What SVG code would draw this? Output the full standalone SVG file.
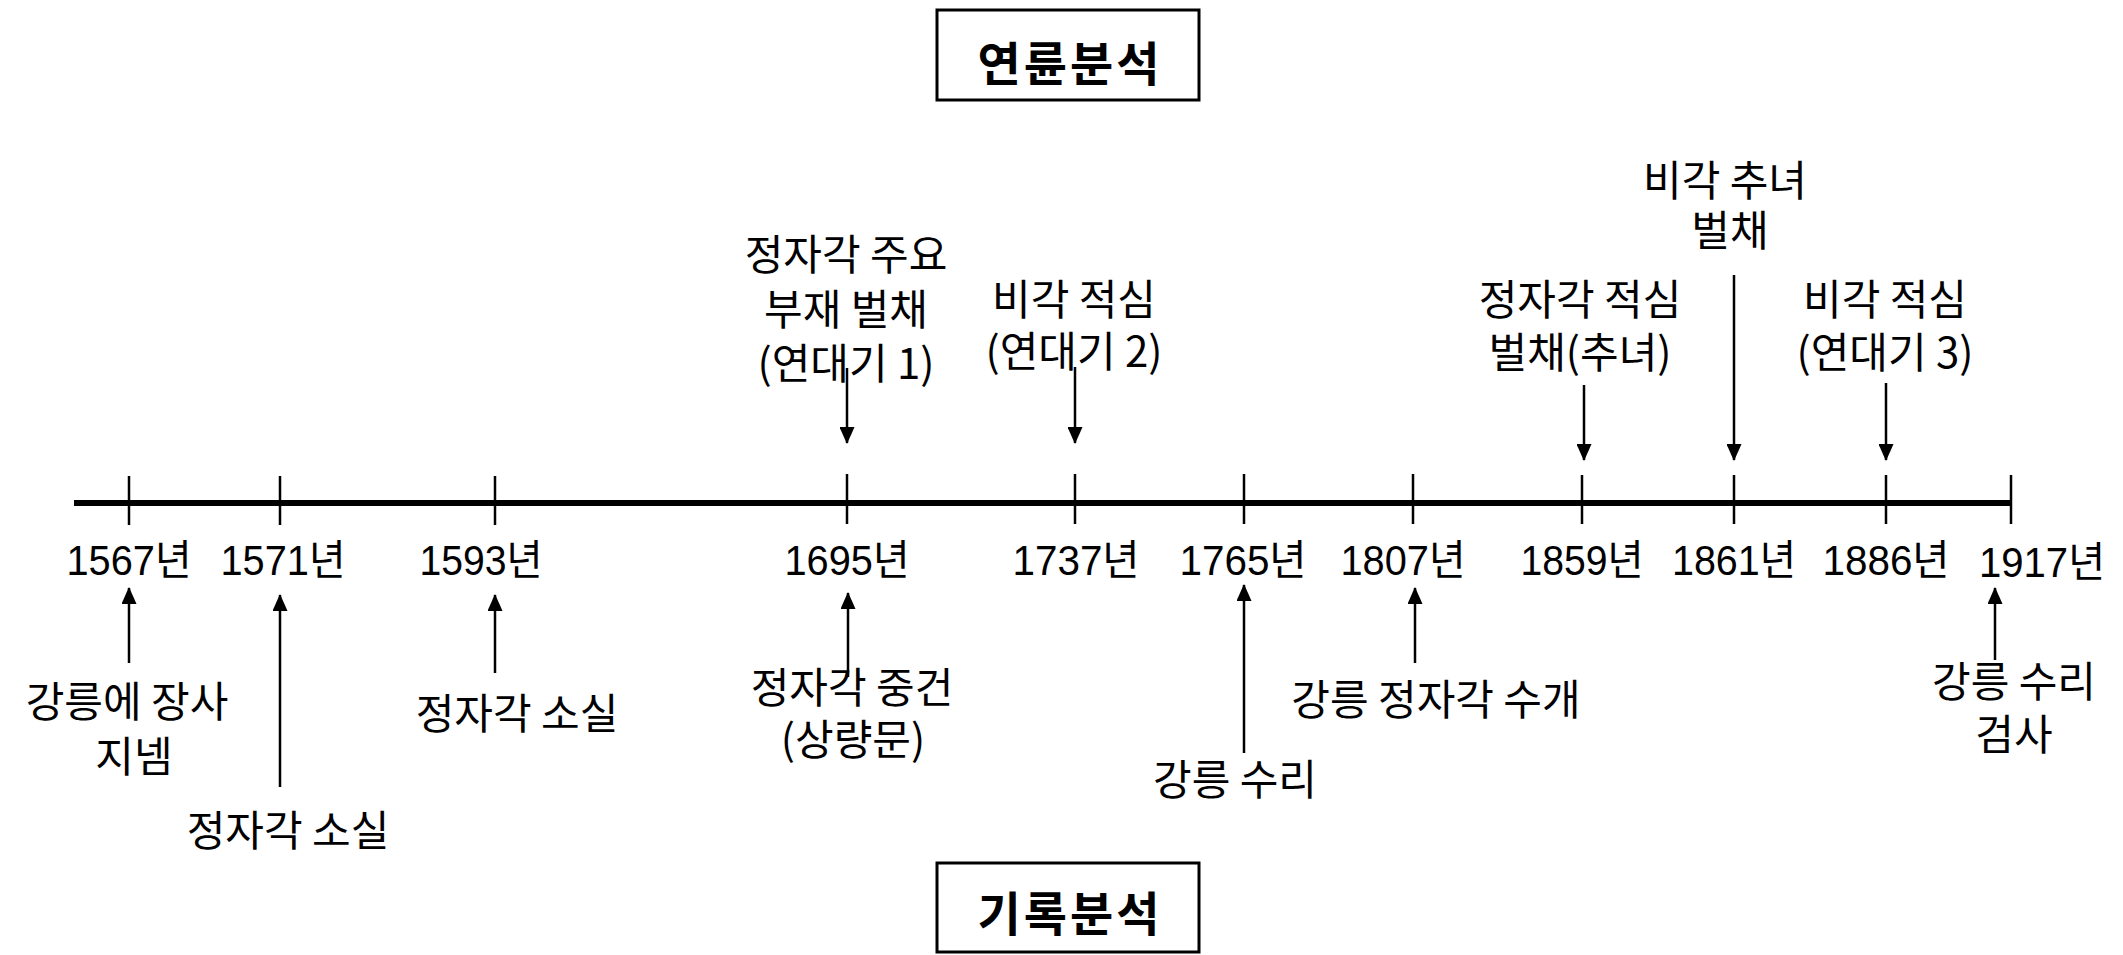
<svg xmlns="http://www.w3.org/2000/svg" width="2123" height="955" viewBox="0 0 2123 955">
<style>
.bg{fill:#ffffff}
.box{fill:#ffffff;stroke:#000;stroke-width:3}
.title{font-family:"Noto Sans CJK KR",sans-serif;font-size:47px;font-weight:bold;fill:#000;text-anchor:middle;letter-spacing:3px}
.lbl{font-family:"Noto Sans CJK KR",sans-serif;font-size:42px;fill:#000;text-anchor:middle}
.yr{font-family:"Liberation Sans","Noto Sans CJK KR",sans-serif;font-size:42px;fill:#000;text-anchor:middle}
.axis{stroke:#000;stroke-width:6;fill:none}
.tick{stroke:#000;stroke-width:2.5;fill:none}
.arr{stroke:#000;stroke-width:2.5;fill:none;marker-end:url(#ah)}
</style>
<defs>
<marker id="ah" markerUnits="userSpaceOnUse" markerWidth="17" markerHeight="15" refX="16" refY="7.5" orient="auto">
<path d="M0,0 L17,7.5 L0,15 z" fill="#000"/>
</marker>
</defs>
<rect class="bg" x="0" y="0" width="2123" height="955"/>

<g id="title-top">
<rect class="box" x="937" y="10" width="262" height="90"/>
<text class="title" x="1070" y="81">연륜분석</text>
</g>
<g id="title-bottom">
<rect class="box" x="937" y="863" width="262" height="89"/>
<text class="title" x="1070" y="931">기록분석</text>
</g>

<g id="axis">
<line class="axis" x1="74" y1="503" x2="2011" y2="503"/>
<line class="tick" x1="129" y1="476" x2="129" y2="525"/>
<line class="tick" x1="280" y1="476" x2="280" y2="525"/>
<line class="tick" x1="495" y1="476" x2="495" y2="525"/>
<line class="tick" x1="847" y1="474" x2="847" y2="524"/>
<line class="tick" x1="1075" y1="474" x2="1075" y2="524"/>
<line class="tick" x1="1244" y1="474" x2="1244" y2="524"/>
<line class="tick" x1="1413" y1="474" x2="1413" y2="524"/>
<line class="tick" x1="1582" y1="475" x2="1582" y2="524"/>
<line class="tick" x1="1734" y1="475" x2="1734" y2="524"/>
<line class="tick" x1="1886" y1="475" x2="1886" y2="524"/>
<line class="tick" x1="2011" y1="475" x2="2011" y2="524"/>
</g>

<g id="years">
<text class="yr" x="129" y="575" textLength="125" lengthAdjust="spacingAndGlyphs">1567년</text>
<text class="yr" x="283" y="575" textLength="125" lengthAdjust="spacingAndGlyphs">1571년</text>
<text class="yr" x="481" y="575" textLength="123" lengthAdjust="spacingAndGlyphs">1593년</text>
<text class="yr" x="847" y="575" textLength="125" lengthAdjust="spacingAndGlyphs">1695년</text>
<text class="yr" x="1076" y="575" textLength="127" lengthAdjust="spacingAndGlyphs">1737년</text>
<text class="yr" x="1243" y="575" textLength="127" lengthAdjust="spacingAndGlyphs">1765년</text>
<text class="yr" x="1403" y="575" textLength="125" lengthAdjust="spacingAndGlyphs">1807년</text>
<text class="yr" x="1582" y="575" textLength="123" lengthAdjust="spacingAndGlyphs">1859년</text>
<text class="yr" x="1734" y="575" textLength="124" lengthAdjust="spacingAndGlyphs">1861년</text>
<text class="yr" x="1886" y="575" textLength="127" lengthAdjust="spacingAndGlyphs">1886년</text>
<text class="yr" x="2042" y="577" textLength="126" lengthAdjust="spacingAndGlyphs">1917년</text>
</g>

<g id="ev-1695-top">
<text class="lbl" x="846" y="270">정자각 주요</text>
<text class="lbl" x="846" y="325">부재 벌채</text>
<text class="lbl" x="846" y="379">(연대기 1)</text>
</g>
<g id="ev-1737-top">
<text class="lbl" x="1074" y="315">비각 적심</text>
<text class="lbl" x="1074" y="367">(연대기 2)</text>
</g>
<g id="ev-1859-top">
<text class="lbl" x="1580" y="315">정자각 적심</text>
<text class="lbl" x="1580" y="368">벌채(추녀)</text>
</g>
<g id="ev-1861-top">
<text class="lbl" x="1725" y="196">비각 추녀</text>
<text class="lbl" x="1730" y="246">벌채</text>
</g>
<g id="ev-1886-top">
<text class="lbl" x="1885" y="315">비각 적심</text>
<text class="lbl" x="1885" y="368">(연대기 3)</text>
</g>

<g id="ev-1567-bottom">
<text class="lbl" x="127" y="717">강릉에 장사</text>
<text class="lbl" x="134" y="772">지넴</text>
</g>
<g id="ev-1571-bottom">
<text class="lbl" x="288" y="846">정자각 소실</text>
</g>
<g id="ev-1593-bottom">
<text class="lbl" x="517" y="729">정자각 소실</text>
</g>
<g id="ev-1695-bottom">
<text class="lbl" x="852" y="703">정자각 중건</text>
<text class="lbl" x="853" y="755">(상량문)</text>
</g>
<g id="ev-1765-bottom">
<text class="lbl" x="1235" y="795">강릉 수리</text>
</g>
<g id="ev-1807-bottom">
<text class="lbl" x="1436" y="715">강릉 정자각 수개</text>
</g>
<g id="ev-1917-bottom">
<text class="lbl" x="2014" y="697">강릉 수리</text>
<text class="lbl" x="2014" y="750">검사</text>
</g>

<g id="connectors">
<line class="arr" x1="847" y1="368" x2="847" y2="443"/>
<line class="arr" x1="1075" y1="367" x2="1075" y2="443"/>
<line class="arr" x1="1584" y1="385" x2="1584" y2="460"/>
<line class="arr" x1="1734" y1="275" x2="1734" y2="460"/>
<line class="arr" x1="1886" y1="383" x2="1886" y2="460"/>
<line class="arr" x1="129" y1="663" x2="129" y2="588"/>
<line class="arr" x1="280" y1="787" x2="280" y2="595"/>
<line class="arr" x1="495" y1="673" x2="495" y2="595"/>
<line class="arr" x1="848" y1="677" x2="848" y2="593"/>
<line class="arr" x1="1244" y1="753" x2="1244" y2="585"/>
<line class="arr" x1="1415" y1="663" x2="1415" y2="588"/>
<line class="arr" x1="1995" y1="660" x2="1995" y2="588"/>
</g>
</svg>
